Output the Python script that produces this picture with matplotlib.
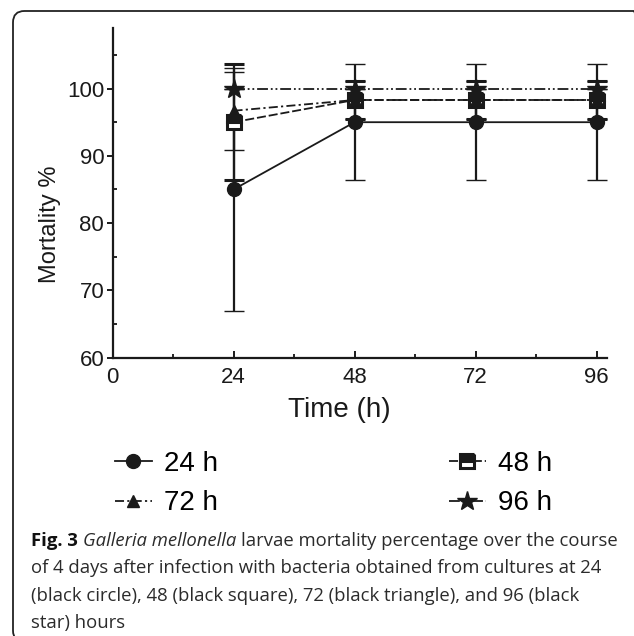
import matplotlib
matplotlib.use("Agg")
import matplotlib.pyplot as plt
from matplotlib.lines import Line2D
from matplotlib.patches import FancyBboxPatch

# %% Datos
time_h = [24, 48, 72, 96]
series_labels = ["24 h", "48 h", "72 h", "96 h"]
mort_24 = [85, 95, 95, 95]
sd_24 = [18, 8.66, 8.66, 8.66]
mort_48 = [95, 98.3, 98.3, 98.3]
sd_48 = [8.66, 2.89, 2.89, 2.89]
mort_72 = [96.7, 98.3, 98.3, 98.3]
sd_72 = [5.77, 2.89, 2.89, 2.89]
mort_96 = [100, 100, 100, 100]
sd_96 = [0, 0, 0, 0]

x_ticks = [0, 24, 48, 72, 96]
y_ticks = [60, 70, 80, 90, 100]

caption_lines = [
    "of 4 days after infection with bacteria obtained from cultures at 24",
    "(black circle), 48 (black square), 72 (black triangle), and 96 (black",
    "star) hours",
]

# %% Estilos
W, H = 634, 636
plt.rcParams["font.family"] = ["Liberation Sans", "DejaVu Sans"]
ink = "#1a1a1a"

styles = [
    dict(marker="o", ms=10, ls="-", mfc=ink, mec=ink),
    dict(marker="s", ms=9.5, ls=(0, (5, 1.6)), mfc=ink, mec=ink,
         fillstyle="top", mfcalt="white", mew=2.2),
    dict(marker="^", ms=9, ls=(0, (5, 1.8, 1.2, 1.8)), mfc=ink, mec=ink),
    dict(marker="*", ms=15, ls=(0, (6, 1.6, 1, 1.6, 1, 1.6)), mfc=ink, mec=ink),
]
means = [mort_24, mort_48, mort_72, mort_96]
sds = [sd_24, sd_48, sd_72, sd_96]

fig = plt.figure(figsize=(W / 100, H / 100), dpi=100, facecolor="white")

# marco redondeado (lados derecho e inferior fuera del lienzo)
box = FancyBboxPatch((13 / W, -6 / H), (645 - 13) / W, (636 - 11 + 6) / H,
                     boxstyle="round,pad=0,rounding_size=0.018",
                     transform=fig.transFigure, fill=False, ec="#222222", lw=1.3,
                     clip_on=False)
fig.patches.append(box)

ax = fig.add_axes([112.5 / W, 1 - 357.7 / H, 494.2 / W, 329.7 / H])

for m, s, st in zip(means, sds, styles):
    kw = dict(color=ink, lw=1.3, marker=st["marker"], ms=st["ms"], ls=st["ls"],
              mfc=st["mfc"], mec=st["mec"], mew=st.get("mew", 1),
              elinewidth=1.6, capsize=7.5, capthick=1.6)
    eb = ax.errorbar(time_h, m, yerr=s, **kw)
    if "fillstyle" in st:
        eb[0].set_fillstyle(st["fillstyle"])
        eb[0].set_markerfacecoloralt(st["mfcalt"])

ax.set_xlim(0, 98)
ax.set_ylim(60, 109)
ax.set_xticks(x_ticks)
ax.set_xticks([12, 36, 60, 84], minor=True)
ax.set_yticks(y_ticks)
ax.set_yticks([65, 75, 85, 95, 105], minor=True)
for sp in ["top", "right"]:
    ax.spines[sp].set_visible(False)
for sp in ["left", "bottom"]:
    ax.spines[sp].set_linewidth(1.6)
    ax.spines[sp].set_color(ink)
ax.tick_params(axis="both", which="major", labelsize=16, colors=ink, width=1.4)
ax.tick_params(axis="x", which="both", direction="in", length=5, pad=7)
ax.tick_params(axis="x", which="minor", length=3, width=1.2)
ax.tick_params(axis="y", which="major", direction="out", length=4, pad=2)
ax.tick_params(axis="y", which="minor", direction="in", length=3, width=1.2)

fig.text(50 / W, 1 - 224 / H, "Mortality %", rotation=90, fontsize=17,
         ha="center", va="center", color=ink)
fig.text(339 / W, 1 - 410 / H, "Time (h)", fontsize=20, ha="center",
         va="center", color=ink)

# %% Leyenda
handles = []
for st, lab in zip(styles, series_labels):
    h = Line2D([], [], color=ink, lw=1.3, marker=st["marker"], ms=st["ms"],
               ls=st["ls"], mfc=st["mfc"], mec=st["mec"], mew=st.get("mew", 1),
               fillstyle=st.get("fillstyle", "full"),
               markerfacecoloralt=st.get("mfcalt", "none"), label=lab)
    handles.append(h)
order = [0, 2, 1, 3]
fig.legend([handles[i] for i in order], [series_labels[i] for i in order],
           ncol=2, loc="upper left", bbox_to_anchor=(115 / W, 1 - 451 / H),
           frameon=False, fontsize=20, handlelength=1.33, handletextpad=0.45,
           columnspacing=8.3, labelspacing=0.48, borderpad=0, borderaxespad=0)

# %% Pie de figura
cap_font = ["Open Sans", "DejaVu Sans"]
cap_size = 13.3
cap_color = "#2b2b2b"
renderer = fig.canvas.get_renderer()
x0 = 31 / W
y_base = [546, 573.3, 600.6, 627.9]

t1 = fig.text(x0, 1 - y_base[0] / H, "Fig. 3", fontsize=cap_size, weight="bold",
              family=cap_font, color="#111111", va="baseline")
bb = t1.get_window_extent(renderer)
t2 = fig.text((bb.x1 + 5) / W, 1 - y_base[0] / H, "Galleria mellonella",
              fontsize=cap_size, style="italic", family=cap_font,
              color=cap_color, va="baseline")
bb = t2.get_window_extent(renderer)
fig.text((bb.x1 + 5) / W, 1 - y_base[0] / H,
         "larvae mortality percentage over the course", fontsize=cap_size,
         family=cap_font, color=cap_color, va="baseline")
for line, yb in zip(caption_lines, y_base[1:]):
    fig.text(x0, 1 - yb / H, line, fontsize=cap_size, family=cap_font,
             color=cap_color, va="baseline")

fig.savefig("out.png", dpi=100, facecolor="white")
